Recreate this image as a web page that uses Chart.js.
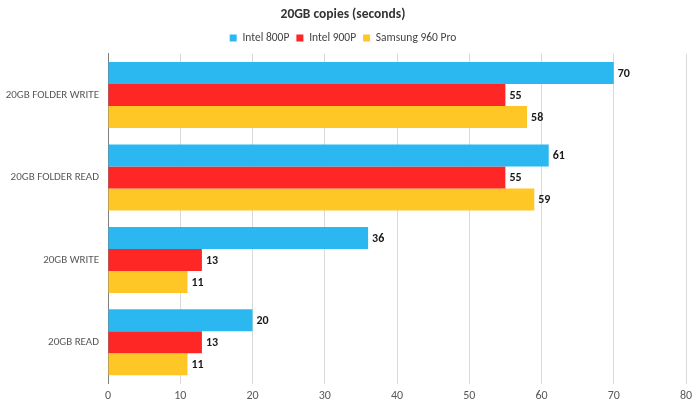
<!DOCTYPE html>
<html><head><meta charset="utf-8">
<script src="https://cdn.jsdelivr.net/npm/chart.js@4/dist/chart.umd.min.js"></script>
<style>html,body{margin:0;padding:0;background:#fff}#w{width:699px;height:408px}</style>
</head><body><div id="w"><canvas id="c"></canvas></div>
<script>
const categories = ["20GB FOLDER WRITE", "20GB FOLDER READ", "20GB WRITE", "20GB READ"];
const seriesNames = ["Intel 800P", "Intel 900P", "Samsung 960 Pro"];
const intel800P = [70, 61, 36, 20];
const intel900P = [55, 55, 13, 13];
const samsung960Pro = [58, 59, 11, 11];
const xTicks = [0, 10, 20, 30, 40, 50, 60, 70, 80];
const colors = ["#2BB8F0", "#FF2626", "#FFC726"];
const FONT = "Carlito, Lato, sans-serif";

const labelPlugin = {
  id: 'vals',
  afterDatasetsDraw(chart) {
    const ctx = chart.ctx;
    ctx.save();
    ctx.font = "bold 12px " + FONT;
    ctx.fillStyle = "#1a1a1a";
    ctx.textBaseline = "middle";
    ctx.textAlign = "left";
    chart.data.datasets.forEach((ds, i) => {
      chart.getDatasetMeta(i).data.forEach((el, j) => {
        ctx.fillText(String(ds.data[j]), el.x + 4, el.y + 1);
      });
    });
    ctx.restore();
  }
};

new Chart(document.getElementById('c'), {
  type: 'bar',
  data: {
    labels: categories,
    datasets: [
      {label: seriesNames[0], data: intel800P, backgroundColor: colors[0]},
      {label: seriesNames[1], data: intel900P, backgroundColor: colors[1]},
      {label: seriesNames[2], data: samsung960Pro, backgroundColor: colors[2]}
    ]
  },
  options: {
    indexAxis: 'y',
    responsive: true,
    maintainAspectRatio: false,
    animation: false,
    datasets: {bar: {categoryPercentage: 0.8, barPercentage: 1.0}},
    layout: {padding: {left: 0, right: 13, top: 7, bottom: 0}},
    plugins: {
      title: {display: true, text: "20GB copies (seconds)", color: "#333", font: {family: FONT, size: 13.5, weight: 'bold'}, padding: {top: 0, bottom: 2}},
      legend: {display: true, position: 'top', labels: {boxWidth: 7, boxHeight: 7, padding: 7, color: "#444", font: {family: FONT, size: 11.5}}},
      tooltip: {enabled: false}
    },
    scales: {
      x: {
        min: 0, max: 80,
        afterBuildTicks(s) { s.ticks = xTicks.map(v => ({value: v})); },
        grid: {color: "#d9d9d9", drawTicks: false},
        border: {display: false},
        ticks: {color: "#595959", font: {family: FONT, size: 12}, padding: 5}
      },
      y: {
        grid: {display: false, drawTicks: false},
        border: {display: true, color: "#7f7f7f", width: 1},
        ticks: {color: "#595959", font: {family: FONT, size: 11}, padding: 9},
        afterFit(s) { s.width = 108; }
      }
    }
  },
  plugins: [labelPlugin]
});
</script></body></html>
